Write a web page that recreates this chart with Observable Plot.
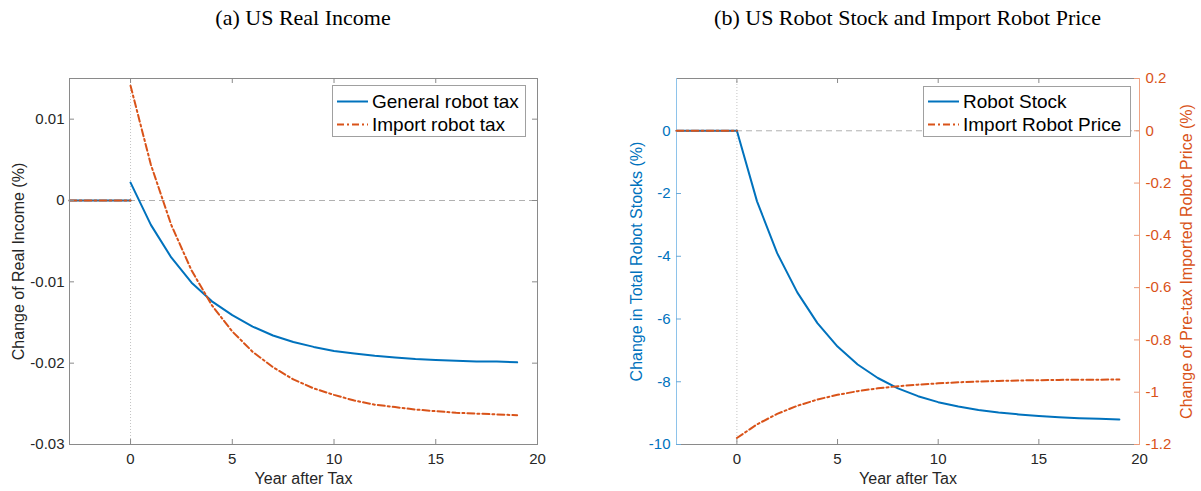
<!DOCTYPE html>
<html><head><meta charset="utf-8">
<script src="https://cdn.jsdelivr.net/npm/d3@7"></script>
<script src="https://cdn.jsdelivr.net/npm/@observablehq/plot@0.6"></script>
<style>
body{margin:0;background:#fff;}
#wrap{position:relative;width:1201px;height:491px;overflow:hidden;font-family:"Liberation Sans",Arial,sans-serif;background:#fff;}
.title{position:absolute;top:5px;font-family:"Liberation Serif","Times New Roman",serif;font-size:22px;line-height:26px;color:#000;transform:translateX(-50%);white-space:nowrap;}
.panel{position:absolute;top:0;}
.legend{position:absolute;border:1px solid #a0a0a0;background:#fff;box-sizing:border-box;font-size:19px;color:#000;}
.legend .row{position:absolute;left:0;height:23px;line-height:23px;white-space:nowrap;}
.legend svg{position:absolute;left:4px;top:0;}
.legend span{position:absolute;left:39px;top:0;}
</style></head>
<body><div id="wrap"></div>
<script>
// ---- data ----
const titleA = "(a) US Real Income";
const titleB = "(b) US Robot Stock and Import Robot Price";
const xTicks = [0, 5, 10, 15, 20];
const yTicksA = [-0.03, -0.02, -0.01, 0, 0.01];
const yTicksBLeft = [-10, -8, -6, -4, -2, 0];
const yTicksBRight = [-1.2, -1, -0.8, -0.6, -0.4, -0.2, 0, 0.2];
const preYears = [-3, -2, -1, 0];
const preValues = [0, 0, 0, 0];
const postYears = [0, 1, 2, 3, 4, 5, 6, 7, 8, 9, 10, 11, 12, 13, 14, 15, 16, 17, 18, 19];
const generalTax = [0.0022, -0.0030, -0.0070, -0.0101, -0.0124, -0.0141, -0.0155, -0.0166, -0.0174, -0.0180,
  -0.0185, -0.0188, -0.0191, -0.0193, -0.0195, -0.0196, -0.0197, -0.0198, -0.0198, -0.0199];
const importTax = [0.0141, 0.0044, -0.0030, -0.0086, -0.0129, -0.0161, -0.0186, -0.0205, -0.0220, -0.0231,
  -0.0239, -0.0246, -0.0251, -0.0254, -0.0257, -0.0259, -0.0261, -0.0262, -0.0263, -0.0264];
const robotStock = [0, -2.25, -3.90, -5.15, -6.13, -6.88, -7.45, -7.88, -8.21, -8.46,
  -8.65, -8.79, -8.90, -8.98, -9.04, -9.09, -9.13, -9.16, -9.18, -9.20];
const importPrice = [-1.175, -1.123, -1.083, -1.052, -1.028, -1.010, -0.996, -0.985, -0.977, -0.971,
  -0.966, -0.962, -0.959, -0.957, -0.955, -0.954, -0.953, -0.952, -0.952, -0.951];
const legendA = ["General robot tax", "Import robot tax"];
const legendB = ["Robot Stock", "Import Robot Price"];
const xLabel = "Year after Tax";
const yLabelA = "Change of Real Income (%)";
const yLabelBLeft = "Change in Total Robot Stocks (%)";
const yLabelBRight = "Change of Pre-tax Imported Robot Price (%)";

// ---- styles ----
const BLUE = "#0072BD", ORANGE = "#D95319", GRAY = "#8a8a8a";
const DASHDOT = "7,3,2,3";
const font = '"Liberation Sans", Arial, sans-serif';

function rows(vals) {
  return [
    ...preYears.map((y, i) => ({year: y, value: preValues[i], seg: "pre"})),
    ...postYears.map((y, i) => ({year: y, value: vals[i], seg: "post"}))
  ];
}

const wrap = document.getElementById("wrap");
const H = 491, MT = 78, MB = 47;
const FH = H - MT - MB;

// ---- panel A ----
const WA = 600, MLA = 69, MRA = 63, FWA = WA - MLA - MRA;
const plotA = Plot.plot({
  width: WA, height: H, marginTop: MT, marginBottom: MB, marginLeft: MLA, marginRight: MRA,
  style: {fontFamily: font, fontSize: "15px", color: "#262626", background: "transparent"},
  x: {domain: [-3, 20]}, y: {domain: [-0.03, 0.015]},
  marks: [
    Plot.ruleY([0], {stroke: "#b0b0b0", strokeDasharray: "6,4"}),
    Plot.ruleX([0], {stroke: "#c4c4c4", strokeDasharray: "1,2"}),
    Plot.line(rows(generalTax), {x: "year", y: "value", z: "seg", stroke: BLUE, strokeWidth: 2}),
    Plot.line(rows(importTax), {x: "year", y: "value", z: "seg", stroke: ORANGE, strokeWidth: 2, strokeDasharray: DASHDOT}),
    Plot.frame({stroke: GRAY}),
    Plot.tickX(xTicks, {x: d => d, stroke: GRAY, insetTop: FH - 5}),
    Plot.tickX(xTicks, {x: d => d, stroke: GRAY, insetBottom: FH - 5}),
    Plot.tickY(yTicksA, {y: d => d, stroke: GRAY, insetRight: FWA - 5}),
    Plot.tickY(yTicksA, {y: d => d, stroke: GRAY, insetLeft: FWA - 5}),
    Plot.axisX({ticks: xTicks, tickSize: 0, tickPadding: 9, tickFormat: d => String(d), label: null}),
    Plot.axisY({ticks: yTicksA, tickSize: 0, tickPadding: 5, tickFormat: d => String(d), label: null}),
    Plot.text([xLabel], {frameAnchor: "bottom", dy: 34, fontSize: 16, lineAnchor: "middle", textAnchor: "middle", text: d => d, fill: "#262626"}),
    Plot.text([yLabelA], {frameAnchor: "left", dx: -51, rotate: -90, fontSize: 16, lineAnchor: "middle", textAnchor: "middle", text: d => d, fill: "#262626"})
  ]
});
plotA.classList.add("panel"); plotA.style.left = "0px";
wrap.appendChild(plotA);

// ---- panel B ----
const XB = 600, WB = 601, MLB = 76, MRB = 62, FWB = WB - MLB - MRB;
const plotB1 = Plot.plot({
  width: WB, height: H, marginTop: MT, marginBottom: MB, marginLeft: MLB, marginRight: MRB,
  style: {fontFamily: font, fontSize: "15px", color: "#262626", background: "transparent"},
  x: {domain: [-3, 20]}, y: {domain: [-10, 10 * 0.2 / 1.2]},
  marks: [
    Plot.ruleY([0], {stroke: "#b0b0b0", strokeDasharray: "6,4"}),
    Plot.ruleX([0], {stroke: "#c4c4c4", strokeDasharray: "1,2"}),
    Plot.line(rows(robotStock), {x: "year", y: "value", z: "seg", stroke: BLUE, strokeWidth: 2}),
    Plot.frame({anchor: "top", stroke: GRAY}),
    Plot.frame({anchor: "bottom", stroke: GRAY}),
    Plot.frame({anchor: "left", stroke: "#8ec3ea"}),
    Plot.tickX(xTicks, {x: d => d, stroke: GRAY, insetTop: FH - 5}),
    Plot.tickX(xTicks, {x: d => d, stroke: GRAY, insetBottom: FH - 5}),
    Plot.tickY(yTicksBLeft, {y: d => d, stroke: "#6aa9d8", insetRight: FWB - 5}),
    Plot.axisX({ticks: xTicks, tickSize: 0, tickPadding: 9, tickFormat: d => String(d), label: null}),
    Plot.axisY({ticks: yTicksBLeft, tickSize: 0, tickPadding: 6, tickFormat: d => String(d), label: null, fill: BLUE}),
    Plot.text([xLabel], {frameAnchor: "bottom", dy: 34, fontSize: 16, lineAnchor: "middle", textAnchor: "middle", text: d => d, fill: "#262626"}),
    Plot.text([yLabelBLeft], {frameAnchor: "left", dx: -40, rotate: -90, fontSize: 16, lineAnchor: "middle", textAnchor: "middle", text: d => d, fill: BLUE})
  ]
});
plotB1.classList.add("panel"); plotB1.style.left = XB + "px";
wrap.appendChild(plotB1);

const plotB2 = Plot.plot({
  width: WB, height: H, marginTop: MT, marginBottom: MB, marginLeft: MLB, marginRight: MRB,
  style: {fontFamily: font, fontSize: "15px", color: "#262626", background: "transparent"},
  x: {domain: [-3, 20], axis: null}, y: {domain: [-1.2, 0.2], axis: null},
  marks: [
    Plot.line(rows(importPrice), {x: "year", y: "value", z: "seg", stroke: ORANGE, strokeWidth: 2, strokeDasharray: DASHDOT}),
    Plot.frame({anchor: "right", stroke: "#efa485"}),
    Plot.tickY(yTicksBRight, {y: d => d, stroke: "#eb9a78", insetLeft: FWB - 5}),
    Plot.axisY({anchor: "right", ticks: yTicksBRight, tickSize: 0, tickPadding: 6, tickFormat: d => String(d), label: null, fill: ORANGE}),
    Plot.text([yLabelBRight], {frameAnchor: "right", dx: 47, rotate: -90, fontSize: 16, lineAnchor: "middle", textAnchor: "middle", text: d => d, fill: ORANGE})
  ]
});
plotB2.classList.add("panel"); plotB2.style.left = XB + "px";
wrap.appendChild(plotB2);

// ---- titles ----
function addTitle(text, cx) {
  const d = document.createElement("div");
  d.className = "title"; d.textContent = text; d.style.left = cx + "px";
  wrap.appendChild(d);
}
addTitle(titleA, 303);
addTitle(titleB, 907.5);

// ---- legends ----
function addLegend(labels, left, top, width, height, rowTops) {
  const box = document.createElement("div");
  box.className = "legend";
  Object.assign(box.style, {left: left + "px", top: top + "px", width: width + "px", height: height + "px"});
  const styles = [{stroke: BLUE, dash: null}, {stroke: ORANGE, dash: DASHDOT}];
  labels.forEach((lab, i) => {
    const r = document.createElement("div");
    r.className = "row"; r.style.top = rowTops[i] + "px"; r.style.width = "100%";
    const ns = "http://www.w3.org/2000/svg";
    const s = document.createElementNS(ns, "svg");
    s.setAttribute("width", 32); s.setAttribute("height", 23);
    const l = document.createElementNS(ns, "line");
    l.setAttribute("x1", 0); l.setAttribute("x2", 31); l.setAttribute("y1", 11.5); l.setAttribute("y2", 11.5);
    l.setAttribute("stroke", styles[i].stroke); l.setAttribute("stroke-width", 2);
    if (styles[i].dash) l.setAttribute("stroke-dasharray", styles[i].dash);
    s.appendChild(l);
    r.appendChild(s);
    const sp = document.createElement("span"); sp.textContent = lab;
    r.appendChild(sp);
    box.appendChild(r);
  });
  wrap.appendChild(box);
}
addLegend(legendA, 332, 85, 194, 52, [4, 27]);
addLegend(legendB, 923, 86, 208, 51, [3, 26]);
</script>
</body></html>
